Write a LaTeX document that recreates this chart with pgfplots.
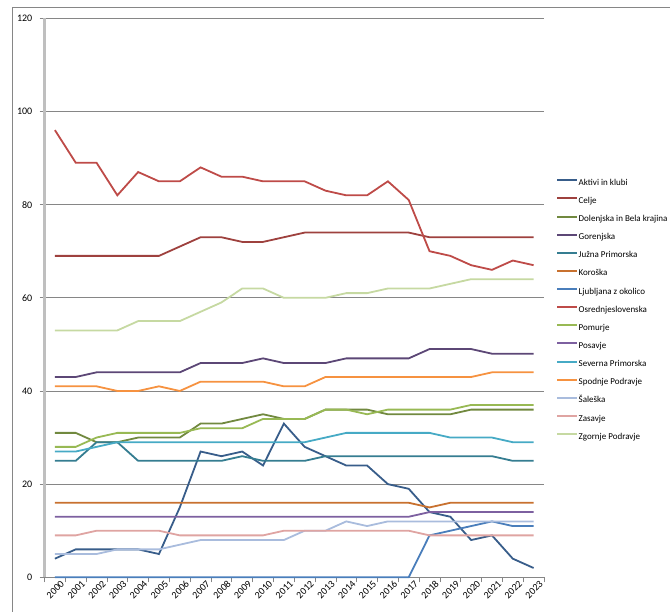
\documentclass[border=0pt]{standalone}
\usepackage{fontspec}
\setmainfont{Carlito}
\usepackage{pgfplots}
\usepackage{pgfplotstable}
\pgfplotsset{compat=1.18}

\definecolor{gridgray}{HTML}{868686}
\definecolor{axisgray}{HTML}{BFBFBF}
\definecolor{cAktivi}{HTML}{385D8A}
\definecolor{cCelje}{HTML}{9E413E}
\definecolor{cDolenjska}{HTML}{71893F}
\definecolor{cGorenjska}{HTML}{5C4776}
\definecolor{cJuzna}{HTML}{357D91}
\definecolor{cKoroska}{HTML}{C8712F}
\definecolor{cLjubljana}{HTML}{4A7EBB}
\definecolor{cOsred}{HTML}{BE4B48}
\definecolor{cPomurje}{HTML}{98B954}
\definecolor{cPosavje}{HTML}{7D60A0}
\definecolor{cSeverna}{HTML}{46AAC5}
\definecolor{cSpodnje}{HTML}{F69240}
\definecolor{cSaleska}{HTML}{A9BCDD}
\definecolor{cZasavje}{HTML}{DFA4A2}
\definecolor{cZgornje}{HTML}{C6D9A2}

% year, then one column per region
\pgfplotstableread{
year A  C  D  G  J  K  L  O  P  Po S  SP Sa Z  ZP
2000 4  69 31 43 25 16 0  96 28 13 27 41 5  9  53
2001 6  69 31 43 25 16 0  89 28 13 27 41 5  9  53
2002 6  69 29 44 29 16 0  89 30 13 28 41 5  10 53
2003 6  69 29 44 29 16 0  82 31 13 29 40 6  10 53
2004 6  69 30 44 25 16 0  87 31 13 29 40 6  10 55
2005 5  69 30 44 25 16 0  85 31 13 29 41 6  10 55
2006 15 71 30 44 25 16 0  85 31 13 29 40 7  9  55
2007 27 73 33 46 25 16 0  88 32 13 29 42 8  9  57
2008 26 73 33 46 25 16 0  86 32 13 29 42 8  9  59
2009 27 72 34 46 26 16 0  86 32 13 29 42 8  9  62
2010 24 72 35 47 25 16 0  85 34 13 29 42 8  9  62
2011 33 73 34 46 25 16 0  85 34 13 29 41 8  10 60
2012 28 74 34 46 25 16 0  85 34 13 29 41 10 10 60
2013 26 74 36 46 26 16 0  83 36 13 30 43 10 10 60
2014 24 74 36 47 26 16 0  82 36 13 31 43 12 10 61
2015 24 74 36 47 26 16 0  82 35 13 31 43 11 10 61
2016 20 74 35 47 26 16 0  85 36 13 31 43 12 10 62
2017 19 74 35 47 26 16 0  81 36 13 31 43 12 10 62
2018 14 73 35 49 26 15 9  70 36 14 31 43 12 9  62
2019 13 73 35 49 26 16 10 69 36 14 30 43 12 9  63
2020 8  73 36 49 26 16 11 67 37 14 30 43 12 9  64
2021 9  73 36 48 26 16 12 66 37 14 30 44 12 9  64
2022 4  73 36 48 25 16 11 68 37 14 29 44 12 9  64
2023 2  73 36 48 25 16 11 67 37 14 29 44 12 9  64
}\regions

\begin{document}
\begin{tikzpicture}
\draw[gridgray, line width=0.75bp] (12bp,-700bp) -- (12bp,-7bp) -- (700bp,-7bp);
\begin{axis}[
  at={(44.5bp,-577.3bp)}, anchor=south west,
  scale only axis, width=499.5bp, height=559bp,
  clip=false,
  xmin=1999.5, xmax=2023.5, ymin=0, ymax=120,
  ytick={0,20,...,120},
  xtick={1999.5,2000.5,...,2023.5}, xticklabels={},
  extra x ticks={2000,2001,...,2023},
  extra x tick style={major tick length=0pt},
  /pgf/number format/1000 sep={},
  /pgf/number format/assume math mode=true,
  axis x line*=bottom, axis y line*=left,
  x axis line style={draw=gridgray, line width=0.75bp},
  y axis line style={draw=axisgray, line width=2.2bp},
  tick align=outside, major tick length=5bp,
  tick style={draw=gridgray, line width=0.75bp},
  ymajorgrids, grid style={draw=gridgray, line width=0.75bp},
  ticklabel style={font=\fontsize{10bp}{11bp}\selectfont, text=black},
  yticklabel style={inner sep=0pt, xshift=-7bp},
  xticklabel style={rotate=45, anchor=east, inner sep=0pt, xshift=2bp, yshift=-9bp},
  legend cell align=left,
  legend image code/.code={\draw[#1, line width=2bp] (0bp,3bp) -- (20bp,3bp);},
  legend style={draw=none, fill=none, inner sep=0pt,
    at={(1.024,0.7125)}, anchor=north west,
    row sep=10.14bp, column sep=0.5bp,
    nodes={inner sep=0pt, text height=6bp, text depth=2bp,
      font=\fontsize{9bp}{11bp}\selectfont}},
  every axis plot/.append style={line width=1.8bp, mark=none},
]
\addplot[cAktivi] table[x=year, y=A] {\regions};
\addlegendentry{Aktivi in klubi}
\addplot[cCelje] table[x=year, y=C] {\regions};
\addlegendentry{Celje}
\addplot[cDolenjska] table[x=year, y=D] {\regions};
\addlegendentry{Dolenjska in Bela krajina}
\addplot[cGorenjska] table[x=year, y=G] {\regions};
\addlegendentry{Gorenjska}
\addplot[cJuzna] table[x=year, y=J] {\regions};
\addlegendentry{Južna Primorska}
\addplot[cKoroska] table[x=year, y=K] {\regions};
\addlegendentry{Koroška}
\addplot[cLjubljana] table[x=year, y=L] {\regions};
\addlegendentry{Ljubljana z okolico}
\addplot[cOsred] table[x=year, y=O] {\regions};
\addlegendentry{Osrednjeslovenska}
\addplot[cPomurje] table[x=year, y=P] {\regions};
\addlegendentry{Pomurje}
\addplot[cPosavje] table[x=year, y=Po] {\regions};
\addlegendentry{Posavje}
\addplot[cSeverna] table[x=year, y=S] {\regions};
\addlegendentry{Severna Primorska}
\addplot[cSpodnje] table[x=year, y=SP] {\regions};
\addlegendentry{Spodnje Podravje}
\addplot[cSaleska] table[x=year, y=Sa] {\regions};
\addlegendentry{Šaleška}
\addplot[cZasavje] table[x=year, y=Z] {\regions};
\addlegendentry{Zasavje}
\addplot[cZgornje] table[x=year, y=ZP] {\regions};
\addlegendentry{Zgornje Podravje}
\end{axis}
\pgfresetboundingbox
\useasboundingbox (0,0) rectangle (670bp,-612bp);
\end{tikzpicture}
\end{document}
